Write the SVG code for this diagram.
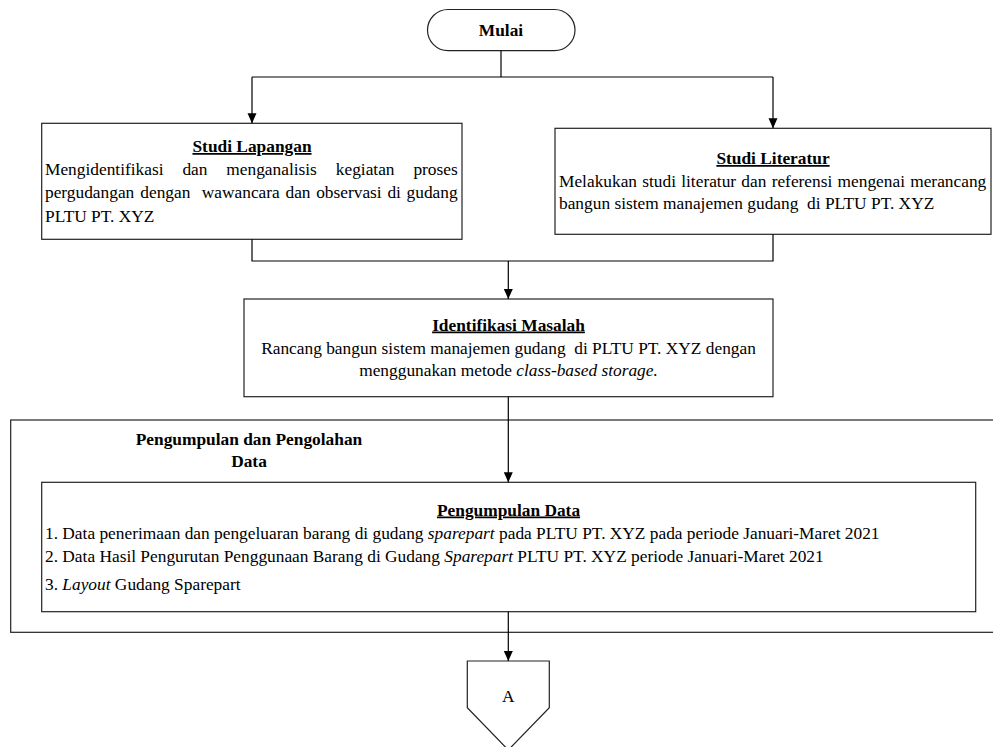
<svg xmlns="http://www.w3.org/2000/svg" width="993" height="747" viewBox="0 0 993 747">
<defs>
<marker id="arr" markerUnits="userSpaceOnUse" markerWidth="10" markerHeight="10" viewBox="0 0 10 10" refX="10" refY="5" orient="auto">
<path d="M0,0.5 L10,5 L0,9.5 z" fill="#000"/>
</marker>
<style>
.box{fill:#fff;stroke:#222;stroke-width:1.2}
.ln{fill:none;stroke:#000;stroke-width:1.2}
text{font-family:'Liberation Serif','Times New Roman',Tinos,'DejaVu Serif',serif;font-size:17.35px;fill:#000}
.b{font-weight:bold}
.u{text-decoration:underline}
.c{text-anchor:middle}
.i{font-style:italic}
</style>
</defs>
<rect width="993" height="747" fill="#fff"/>

<g id="container">
<rect class="box" x="10.7" y="420" width="1000" height="212.3"/>
<text class="b c" x="249" y="445">Pengumpulan dan Pengolahan</text>
<text class="b c" x="249" y="467">Data</text>
</g>

<g id="mulai">
<rect class="box" x="427.5" y="9.5" width="147.5" height="41.2" rx="20.6" ry="20.6"/>
<text class="b c" x="501" y="35.5">Mulai</text>
</g>

<g id="studi-lapangan">
<rect class="box" x="41.7" y="123.3" width="420.3" height="116"/>
<text class="b u c" x="252" y="152">Studi Lapangan</text>
<text y="175"><tspan x="45">Mengidentifikasi</tspan><tspan x="182.4">dan</tspan><tspan x="226.3">menganalisis</tspan><tspan x="335.8">kegiatan</tspan><tspan x="413.4">proses</tspan></text>
<text y="198"><tspan x="45">pergudangan</tspan><tspan x="140.3">dengan</tspan><tspan x="201.8">wawancara</tspan><tspan x="285.5">dan</tspan><tspan x="316.2">observasi</tspan><tspan x="387.4">di</tspan><tspan x="406.6">gudang</tspan></text>
<text x="45" y="221.5">PLTU PT. XYZ</text>
</g>

<g id="studi-literatur">
<rect class="box" x="555" y="128.3" width="436" height="106"/>
<text class="b u c" x="773" y="164">Studi Literatur</text>
<text x="559" y="186.5" style="word-spacing:0.9px">Melakukan studi literatur dan referensi mengenai merancang</text>
<text x="559" y="209" xml:space="preserve">bangun sistem manajemen gudang  di PLTU PT. XYZ</text>
</g>

<g id="identifikasi">
<rect class="box" x="244" y="299" width="529" height="97.7"/>
<text class="b u c" x="508.5" y="330.5">Identifikasi Masalah</text>
<text class="c" x="508.5" y="353.5" xml:space="preserve">Rancang bangun sistem manajemen gudang  di PLTU PT. XYZ dengan</text>
<text class="c" x="508.5" y="376">menggunakan metode <tspan class="i">class-based storage.</tspan></text>
</g>

<g id="pengumpulan-data">
<rect class="box" x="41.7" y="482.3" width="934" height="129.4"/>
<text class="b u c" x="508.5" y="515.5">Pengumpulan Data</text>
<text x="45" y="538.5">1. Data penerimaan dan pengeluaran barang di gudang <tspan class="i">sparepart</tspan> pada PLTU PT. XYZ pada periode Januari-Maret 2021</text>
<text x="45" y="562">2. Data Hasil Pengurutan Penggunaan Barang di Gudang <tspan class="i">Sparepart</tspan> PLTU PT. XYZ periode Januari-Maret 2021</text>
<text x="45" y="589.5">3. <tspan class="i">Layout</tspan> Gudang Sparepart</text>
</g>

<g id="konektor-a">
<path class="box" d="M467.3,661 L549.3,661 L549.3,707.7 L508.3,750 L467.3,707.7 Z"/>
<text class="c" x="508.3" y="702">A</text>
</g>

<g id="connectors">
<path class="ln" d="M501,50.7 L501,77"/>
<path class="ln" d="M252,77 L773,77"/>
<path class="ln" d="M252,77 L252,123.3" marker-end="url(#arr)"/>
<path class="ln" d="M773,77 L773,128.3" marker-end="url(#arr)"/>
<path class="ln" d="M252,239.3 L252,261 L773,261 L773,234.3"/>
<path class="ln" d="M508.3,261 L508.3,299" marker-end="url(#arr)"/>
<path class="ln" d="M508.3,396.7 L508.3,482.3" marker-end="url(#arr)"/>
<path class="ln" d="M508.3,611.7 L508.3,661" marker-end="url(#arr)"/>
</g>
</svg>
